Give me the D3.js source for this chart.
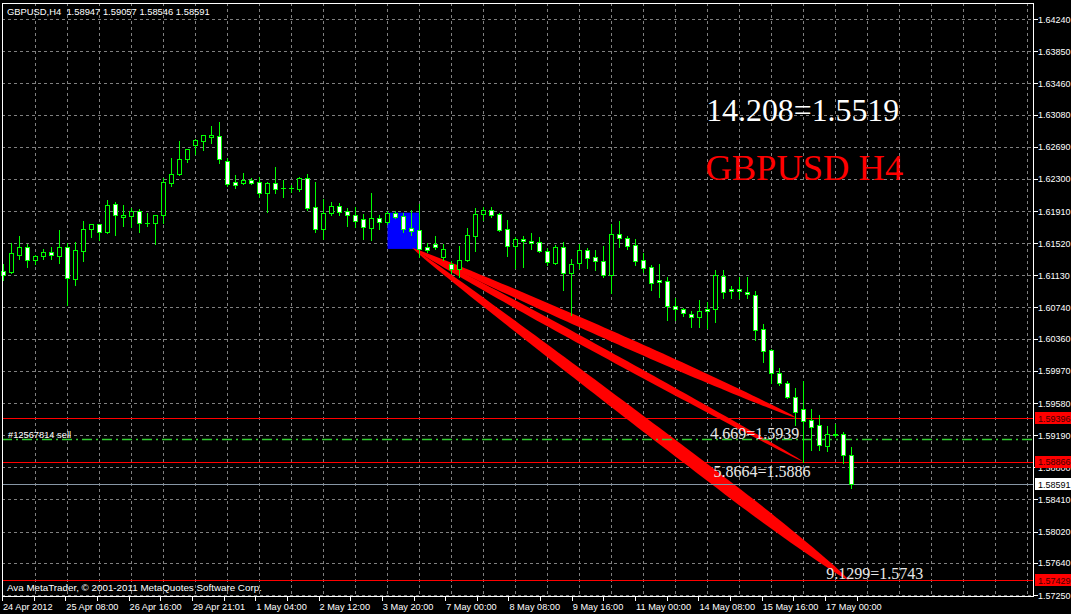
<!DOCTYPE html>
<html><head><meta charset="utf-8">
<script src="https://cdn.jsdelivr.net/npm/d3@7"></script>
<style>
html,body{margin:0;padding:0;background:#000;overflow:hidden;}
svg{display:block;}
</style></head><body>
<svg id="c" width="1071" height="614"></svg>
<script>
// ---------------- DATA ----------------
const opens  = [1.6118,1.6117,1.6138,1.6147,1.6131,1.6136,1.6141,1.6136,1.6147,1.6108,1.6142,1.6169,1.6175,1.6165,1.6199,1.6184,1.6185,1.6191,1.6176,1.6176,1.6186,1.6225,1.6236,1.6254,1.6271,1.6276,1.6281,1.6282,1.6252,1.6226,1.6225,1.6229,1.6226,1.6213,1.6225,1.6219,1.6219,1.6218,1.6231,1.6196,1.6169,1.6188,1.6197,1.6191,1.6186,1.6181,1.6170,1.6182,1.6178,1.6188,1.6185,1.6170,1.6168,1.6147,1.6151,1.6135,1.6127,1.6121,1.6131,1.6161,1.6187,1.6192,1.6187,1.6169,1.6148,1.6157,1.6155,1.6153,1.6142,1.6128,1.6147,1.6116,1.6128,1.6144,1.6135,1.6130,1.6113,1.6163,1.6158,1.6150,1.6131,1.6123,1.6107,1.6106,1.6076,1.6072,1.6066,1.6062,1.6072,1.6072,1.6112,1.6096,1.6096,1.6093,1.6089,1.6048,1.6022,1.5994,1.5982,1.5965,1.5951,1.5937,1.5931,1.5906,1.5920,1.5920,1.58947];
const highs  = [1.6128,1.6153,1.6162,1.6152,1.6139,1.6146,1.6148,1.6169,1.6153,1.6154,1.6180,1.6176,1.6176,1.6205,1.6203,1.6199,1.6196,1.6195,1.6190,1.6187,1.6232,1.6256,1.6277,1.6267,1.6279,1.6284,1.6295,1.6300,1.6256,1.6236,1.6238,1.6232,1.6233,1.6227,1.6246,1.6230,1.6224,1.6233,1.6237,1.6227,1.6207,1.6203,1.6202,1.6196,1.6197,1.6188,1.6214,1.6187,1.6192,1.6192,1.6190,1.6193,1.6201,1.6153,1.6162,1.6152,1.6131,1.6150,1.6172,1.6196,1.6197,1.6197,1.6190,1.6181,1.6161,1.6162,1.6165,1.6161,1.6147,1.6151,1.6154,1.6134,1.6152,1.6147,1.6145,1.6150,1.6176,1.6180,1.6162,1.6158,1.6141,1.6127,1.6128,1.6112,1.6087,1.6074,1.6071,1.6084,1.6082,1.6121,1.6121,1.6101,1.6112,1.6112,1.6095,1.6055,1.6025,1.6002,1.5986,1.5977,1.5986,1.5952,1.5945,1.5931,1.5934,1.5924,1.59057];
const lows   = [1.6107,1.6116,1.6133,1.6123,1.6127,1.6133,1.6133,1.6128,1.6077,1.6101,1.6130,1.6159,1.6156,1.6164,1.6162,1.6173,1.6172,1.6165,1.6173,1.6151,1.6176,1.6221,1.6235,1.6250,1.6260,1.6265,1.6273,1.6249,1.6221,1.6219,1.6224,1.6224,1.6208,1.6190,1.6213,1.6208,1.6214,1.6215,1.6192,1.6165,1.6157,1.6186,1.6186,1.6173,1.6172,1.6157,1.6156,1.6169,1.6175,1.6182,1.6165,1.6162,1.6135,1.6141,1.6145,1.6131,1.6116,1.6111,1.6130,1.6142,1.6180,1.6184,1.6167,1.6136,1.6122,1.6123,1.6145,1.6141,1.6125,1.6127,1.6095,1.6065,1.6122,1.6122,1.6119,1.6111,1.6092,1.6147,1.6145,1.6125,1.6117,1.6095,1.6087,1.6059,1.6059,1.6063,1.6050,1.6050,1.6049,1.6056,1.6085,1.6085,1.6085,1.6085,1.6035,1.6008,1.5982,1.5980,1.5964,1.5931,1.5886,1.5901,1.5901,1.5900,1.5917,1.5885,1.58546];
const closes = [1.6113,1.6140,1.6147,1.6131,1.6136,1.6141,1.6138,1.6147,1.6110,1.6144,1.6169,1.6175,1.6165,1.6198,1.6186,1.6186,1.6191,1.6176,1.6176,1.6186,1.6226,1.6236,1.6254,1.6266,1.6277,1.6283,1.6283,1.6254,1.6224,1.6222,1.6229,1.6225,1.6213,1.6225,1.6218,1.6219,1.6219,1.6231,1.6195,1.6169,1.6188,1.6197,1.6190,1.6186,1.6179,1.6172,1.6182,1.6178,1.6188,1.6184,1.6169,1.6167,1.6145,1.6144,1.6147,1.6145,1.6121,1.6131,1.6162,1.6187,1.6192,1.6186,1.6168,1.6148,1.6157,1.6155,1.6152,1.6142,1.6129,1.6147,1.6116,1.6127,1.6144,1.6134,1.6130,1.6113,1.6163,1.6158,1.6148,1.6130,1.6122,1.6104,1.6105,1.6076,1.6072,1.6067,1.6062,1.6070,1.6070,1.6113,1.6093,1.6094,1.6094,1.6090,1.6047,1.6021,1.5994,1.5982,1.5965,1.5947,1.5936,1.5929,1.5907,1.5920,1.5919,1.5895,1.58591];

const timeLabels = ["24 Apr 2012","25 Apr 08:00","26 Apr 16:00","29 Apr 21:01","1 May 04:00","2 May 12:00","3 May 20:00","7 May 00:00","8 May 08:00","9 May 16:00","11 May 00:00","14 May 08:00","15 May 16:00","17 May 00:00"];
const timeLabelBars = [0,8,16,24,32,40,48,56,64,72,80,88,96,104];
const priceTicks = ["1.64240","1.63850","1.63460","1.63080","1.62690","1.62300","1.61910","1.61520","1.61130","1.60740","1.60360","1.59970","1.59580","1.59190","1.58800","1.58410","1.58020","1.57640","1.57250"];

const levelPrices = [1.59396, 1.58866, 1.57429];
const levelLabels = ["1.59396","1.58866","1.57429"];
const currentPrice = 1.58591;
const orderPrice = 1.59143;
const orderLabel = "#12567814 sell";

const boxBars = [48, 52];
const boxPrices = [1.6145, 1.6189];

const fanOrigin = [51.1, 1.6146];
const fanEndBars = [99.2, 100, 105.7];
const fanEndPrices = [1.59396, 1.58866, 1.57429];
const fanLabels = ["4.669=1.5939","5.8664=1.5886","9.1299=1.5743"];
const fanLabelBars = [93.9, 94.8, 108.9];
const fanLabelPrices = [1.5914, 1.5868, 1.5745];

const bigTexts = ["14.208=1.5519","GBPUSD H4"];
const bigTextBars = [99.9, 100.1];
const bigTextPrices = [1.6300, 1.6229];

const titleText = "GBPUSD,H4  1.58947 1.59057 1.58546 1.58591";
const copyText = "Ava MetaTrader, \u00A9 2001-2011 MetaQuotes Software Corp.";

// ---------------- DRAW ----------------
const svg = d3.select("#c");
const W = 1071, H = 614;
const L = 2, R = 1033, T = 3, B = 596;
const x = d3.scaleLinear().domain([0, 128]).range([3.5, 1027.5]);
const y = d3.scaleLinear().domain([1.57250, 1.64240]).range([595, 19]);
const labelX = d3.scaleLinear().domain([0, 104]).range([2, 825]);
const sans = "'Liberation Sans', Arial, sans-serif";
const serif = "'Liberation Serif', 'Times New Roman', serif";
const yFs = 9;

svg.append("rect").attr("width", W).attr("height", H).attr("fill", "#000");

// grid
const grid = svg.append("g").attr("stroke", "#808080").attr("stroke-dasharray", "3,3").attr("shape-rendering", "crispEdges");
const vBars = d3.range(4, 129, 4);
grid.selectAll("line.v").data(vBars).enter().append("line")
  .attr("x1", d => x(d)).attr("x2", d => x(d)).attr("y1", T).attr("y2", B);
grid.selectAll("line.h").data(priceTicks).enter().append("line")
  .attr("x1", L).attr("x2", R)
  .attr("y1", d => Math.round(y(+d)) + 0.5).attr("y2", d => Math.round(y(+d)) + 0.5);

// blue rectangle
svg.append("rect")
  .attr("x", x(boxBars[0])).attr("width", x(boxBars[1]) - x(boxBars[0]))
  .attr("y", y(boxPrices[1])).attr("height", y(boxPrices[0]) - y(boxPrices[1]))
  .attr("fill", "#0000ff");

// red fans
const fans = svg.append("g");
fanEndBars.forEach((eb, i) => {
  const x0 = x(fanOrigin[0]), y0 = y(fanOrigin[1]);
  const x1 = x(eb), y1 = y(fanEndPrices[i]);
  const wmax = [11, 9, 17][i], peak = [0.55, 0.4, 0.72][i];
  const top = [], bot = [];
  for (let k = 0; k <= 60; k++) {
    const t = k / 60;
    const u = t < peak ? 0.5 * t / peak : 0.5 + 0.5 * (t - peak) / (1 - peak);
    const h = wmax / 2 * Math.pow(Math.sin(Math.PI * u), 0.6);
    const px = x0 + (x1 - x0) * t, py = y0 + (y1 - y0) * t;
    top.push([px, py - h]); bot.push([px, py + h]);
  }
  fans.append("path").attr("d", d3.line()(top.concat(bot.reverse())) + "Z").attr("fill", "#ff0000");
});

// horizontal levels
svg.selectAll("line.lvl").data(levelPrices).enter().append("line")
  .attr("x1", L).attr("x2", R)
  .attr("y1", d => Math.round(y(d)) + 0.5).attr("y2", d => Math.round(y(d)) + 0.5)
  .attr("stroke", "#ff0000").attr("stroke-width", 1.2);
svg.append("line").attr("x1", L).attr("x2", R)
  .attr("y1", Math.round(y(orderPrice)) + 0.5).attr("y2", Math.round(y(orderPrice)) + 0.5)
  .attr("stroke", "#32cd32").attr("stroke-width", 1.3).attr("stroke-dasharray", "10,4,2,4");
svg.append("line").attr("x1", L).attr("x2", R)
  .attr("y1", Math.round(y(currentPrice)) + 0.5).attr("y2", Math.round(y(currentPrice)) + 0.5)
  .attr("stroke", "#8796a5").attr("stroke-width", 1);

svg.append("text").attr("x", 8).attr("y", y(orderPrice) - 1.5)
  .attr("font-family", sans).attr("font-size", 9.3).attr("fill", "#fff").text(orderLabel);

// fan texts
svg.selectAll("text.fl").data(fanLabels).enter().append("text")
  .attr("x", (d, i) => x(fanLabelBars[i])).attr("y", (d, i) => y(fanLabelPrices[i]))
  .attr("text-anchor", "middle").attr("font-family", serif).attr("font-size", 16)
  .attr("fill", "#e8e8e8").text(d => d);

svg.selectAll("text.big").data(bigTexts).enter().append("text")
  .attr("x", (d, i) => x(bigTextBars[i])).attr("y", (d, i) => y(bigTextPrices[i]))
  .attr("text-anchor", "middle").attr("font-family", serif).attr("font-size", (d, i) => i === 0 ? 31.8 : 36.5)
  .attr("fill", (d, i) => i === 0 ? "#ffffff" : "#ff0000").text(d => d);

// candles
const bars = d3.range(opens.length);
const cg = svg.append("g").attr("shape-rendering", "crispEdges");
cg.selectAll("line.w").data(bars).enter().append("line")
  .attr("x1", i => x(i)).attr("x2", i => x(i))
  .attr("y1", i => Math.round(y(highs[i])) + 0.5).attr("y2", i => Math.round(y(lows[i])) + 0.5)
  .attr("stroke", "#00ff00");
cg.selectAll("rect.b").data(bars.filter(i => Math.abs(Math.round(y(opens[i])) - Math.round(y(closes[i]))) >= 1)).enter().append("rect")
  .attr("x", i => x(i) - 2)
  .attr("y", i => Math.round(y(Math.max(opens[i], closes[i]))) + 0.5)
  .attr("width", 4)
  .attr("height", i => Math.round(y(Math.min(opens[i], closes[i]))) - Math.round(y(Math.max(opens[i], closes[i]))))
  .attr("fill", i => closes[i] < opens[i] ? "#ffffff" : "#000000")
  .attr("stroke", "#00ff00");
cg.selectAll("line.d").data(bars.filter(i => Math.abs(Math.round(y(opens[i])) - Math.round(y(closes[i]))) < 1)).enter().append("line")
  .attr("x1", i => x(i) - 2.5).attr("x2", i => x(i) + 2.5)
  .attr("y1", i => Math.round(y(closes[i])) + 0.5).attr("y2", i => Math.round(y(closes[i])) + 0.5)
  .attr("stroke", "#00ff00");

// frame
const fr = svg.append("g").attr("stroke", "#ffffff").attr("shape-rendering", "crispEdges");
fr.append("line").attr("x1", L + 0.5).attr("x2", L + 0.5).attr("y1", T).attr("y2", B + 1);
fr.append("line").attr("x1", R + 0.5).attr("x2", R + 0.5).attr("y1", T).attr("y2", B + 1);
fr.append("line").attr("x1", L).attr("x2", R + 1).attr("y1", T + 0.5).attr("y2", T + 0.5);
fr.append("line").attr("x1", L).attr("x2", R + 1).attr("y1", B + 0.5).attr("y2", B + 0.5);

// y axis
const ya = svg.append("g");
ya.selectAll("line").data(priceTicks).enter().append("line")
  .attr("x1", R + 1).attr("x2", R + 5)
  .attr("y1", d => Math.round(y(+d)) + 0.5).attr("y2", d => Math.round(y(+d)) + 0.5)
  .attr("stroke", "#fff").attr("shape-rendering", "crispEdges");
ya.selectAll("text").data(priceTicks).enter().append("text")
  .attr("x", 1038).attr("y", d => y(+d) + 3.5)
  .attr("font-family", sans).attr("font-size", yFs).attr("fill", "#fff").text(d => d);

// price boxes
const pb = svg.append("g");
levelPrices.forEach((p, i) => {
  pb.append("rect").attr("x", 1035).attr("y", Math.round(y(p)) - 6).attr("width", 40).attr("height", 12).attr("fill", "#ff0000");
  pb.append("text").attr("x", 1038).attr("y", y(p) + 3.5).attr("font-family", sans).attr("font-size", yFs)
    .attr("fill", "#400000").text(levelLabels[i]);
});
pb.append("rect").attr("x", 1035).attr("y", Math.round(y(currentPrice)) - 6).attr("width", 40).attr("height", 12).attr("fill", "#ffffff");
pb.append("text").attr("x", 1038).attr("y", y(currentPrice) + 3.5).attr("font-family", sans).attr("font-size", yFs)
  .attr("fill", "#000").text(d3.format(".5f")(currentPrice));

// x axis
const xa = svg.append("g");
const tickPos = d3.range(0, 111, 4);
xa.selectAll("line").data(tickPos).enter().append("line")
  .attr("x1", d => Math.round(labelX(d)) + 0.5).attr("x2", d => Math.round(labelX(d)) + 0.5)
  .attr("y1", B + 1).attr("y2", B + 5).attr("stroke", "#fff").attr("shape-rendering", "crispEdges");
xa.selectAll("text").data(timeLabels).enter().append("text")
  .attr("x", (d, i) => labelX(timeLabelBars[i]) + 1).attr("y", 609.5)
  .attr("font-family", sans).attr("font-size", 9.2).attr("fill", "#fff").text(d => d);

// title & copyright
svg.append("text").attr("x", 7).attr("y", 14.5).attr("font-family", sans).attr("font-size", 9.4)
  .attr("fill", "#fff").attr("xml:space", "preserve").style("white-space", "pre").text(titleText);
svg.append("text").attr("x", 7).attr("y", 591).attr("font-family", sans).attr("font-size", 9.8)
  .attr("fill", "#fff").text(copyText);
</script>
</body></html>
